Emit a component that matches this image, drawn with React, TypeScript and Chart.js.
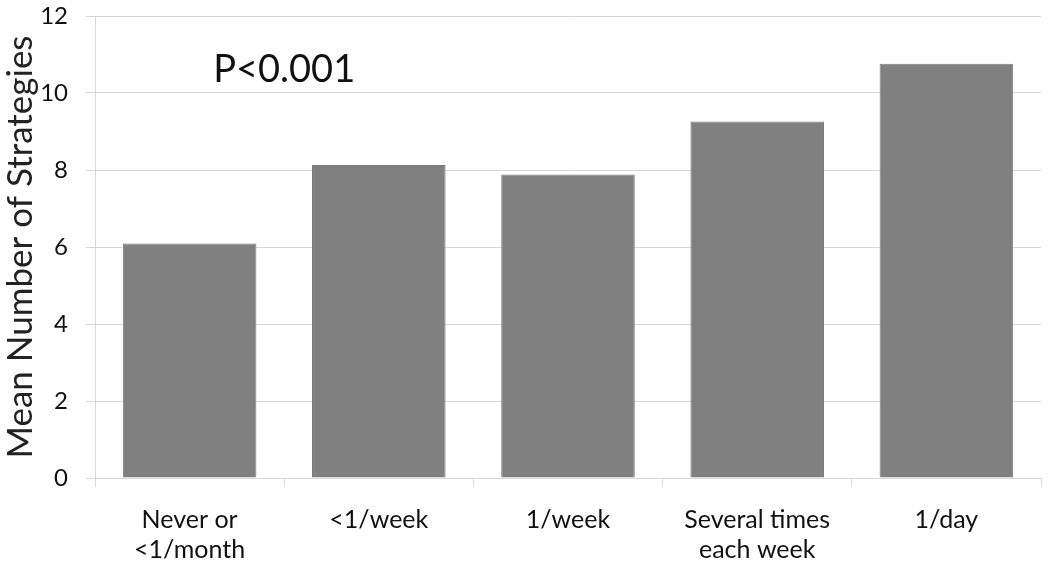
import React, { useEffect, useRef } from "react";
import { Chart, registerables } from "chart.js";

Chart.register(...registerables);

const categories: (string | string[])[] = [
  ["Never or", "<1/month"],
  "<1/week",
  "1/week",
  ["Several times", "each week"],
  "1/day",
];
const meanStrategies = [6.09, 8.13, 7.88, 9.26, 10.76];
const yTicks = [0, 2, 4, 6, 8, 10, 12];
const annotationText = "P<0.001";

const FONT = "Lato, 'Open Sans', sans-serif";

export default function App() {
  const ref = useRef<HTMLCanvasElement | null>(null);

  useEffect(() => {
    if (!ref.current) return;
    const annot = {
      id: "pAnnot",
      afterDatasetsDraw(chart: any) {
        const { ctx, scales } = chart;
        const x = (scales.x.getPixelForValue(0) + scales.x.getPixelForValue(1)) / 2;
        const y = scales.y.getPixelForValue(10.6);
        ctx.save();
        ctx.font = `38px ${FONT}`;
        ctx.fillStyle = "#111";
        ctx.textAlign = "center";
        ctx.textBaseline = "middle";
        ctx.fillText(annotationText, x, y);
        ctx.restore();
      },
    };
    const chart = new Chart(ref.current, {
      type: "bar",
      data: {
        labels: categories,
        datasets: [
          {
            data: meanStrategies,
            backgroundColor: "#808080",
            borderColor: "#7a7a7a",
            borderWidth: 1,
            categoryPercentage: 0.706,
            barPercentage: 1,
          },
        ],
      },
      options: {
        animation: false,
        responsive: false,
        maintainAspectRatio: false,
        layout: { padding: { top: 16, right: 9, left: 0, bottom: 0 } },
        plugins: { legend: { display: false }, tooltip: { enabled: false } },
        scales: {
          x: {
            grid: {
              offset: true,
              drawOnChartArea: false,
              tickLength: 9,
              color: "#d9d9d9",
            },
            border: { color: "#d9d9d9" },
            ticks: {
              color: "#111",
              font: { family: FONT, size: 25, lineHeight: 1.2 },
              padding: 18,
              maxRotation: 0,
              autoSkip: false,
            },
            afterFit(scale: any) {
              scale.height = 86;
              scale.paddingLeft = 0;
              scale.paddingRight = 0;
            },
          },
          y: {
            min: 0,
            max: 12,
            afterBuildTicks(scale: any) {
              scale.ticks = yTicks.map((v) => ({ value: v }));
            },
            grid: { color: "#d9d9d9", tickLength: 9 },
            border: { color: "#d9d9d9" },
            ticks: {
              color: "#111",
              font: { family: FONT, size: 24 },
              padding: 18,
            },
            title: {
              display: true,
              text: "Mean Number of Strategies",
              color: "#222",
              font: { family: FONT, size: 35 },
              padding: { top: 0, bottom: 0 },
            },
            afterFit(scale: any) {
              scale.width = 95;
              scale.paddingTop = 0;
              scale.paddingBottom = 0;
            },
          },
        },
      },
      plugins: [annot],
    });
    return () => chart.destroy();
  }, []);

  return (
    <div style={{ position: "fixed", left: 0, top: 0, width: 1050, height: 564, background: "#fff" }}>
      <canvas ref={ref} width={1050} height={564} style={{ width: 1050, height: 564 }} />
    </div>
  );
}
